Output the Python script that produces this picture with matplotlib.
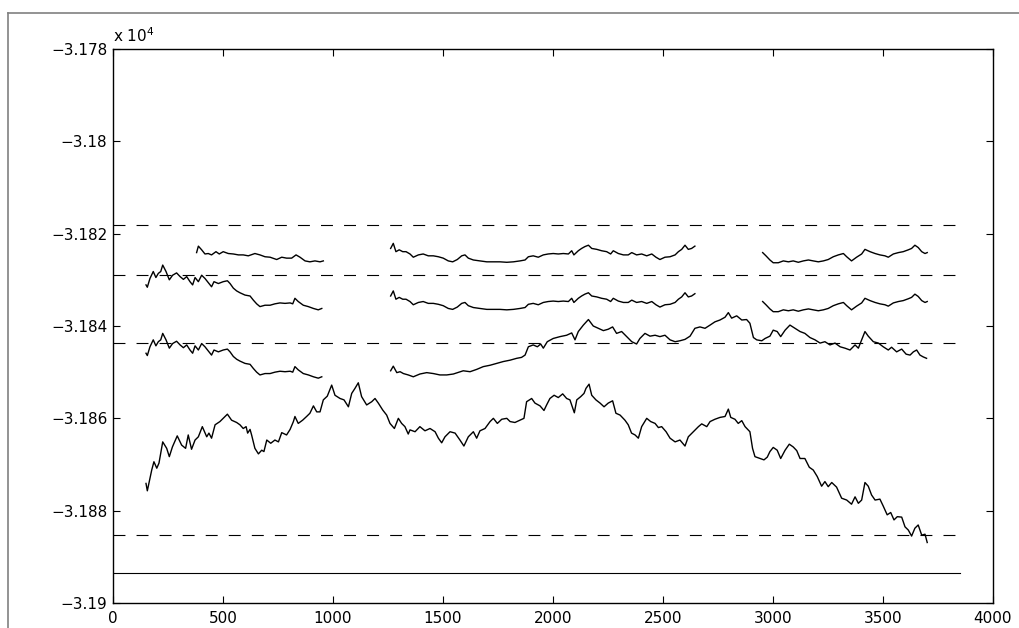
import matplotlib
matplotlib.use('Agg')
import matplotlib.pyplot as plt
from matplotlib.lines import Line2D
from matplotlib.ticker import FixedLocator

plt.rcParams['font.family'] = ['DejaVu Sans']
plt.rcParams['lines.scale_dashes'] = False

# long bottom trace
bottom_x = [150, 156, 176, 186, 199, 209, 226, 244, 256, 270, 292, 312, 330, 342, 357, 373, 388, 406, 426, 436,
            448, 464, 486, 501, 520, 539, 562, 577, 592, 605, 612, 623, 630, 645, 661, 676, 686, 699, 717, 736,
            752, 767, 789, 805, 820, 827, 842, 862, 880, 895, 911, 926, 941, 956, 974, 994, 1009, 1032, 1050, 1070,
            1085, 1100, 1115, 1130, 1153, 1176, 1191, 1206, 1226, 1244, 1259, 1279, 1297, 1312, 1327, 1342,
            1350, 1373, 1395, 1418, 1441, 1464, 1479, 1494, 1509, 1532, 1555, 1577, 1595, 1615, 1638, 1653, 1668,
            1691, 1714, 1729, 1747, 1767, 1790, 1805, 1827, 1850, 1868, 1880, 1903, 1918, 1941, 1959, 1971, 1986,
            2005, 2024, 2044, 2062, 2077, 2097, 2108, 2126, 2141, 2150, 2164, 2176, 2195, 2214, 2232, 2251, 2271,
            2286, 2305, 2327, 2342, 2357, 2373, 2388, 2403, 2426, 2444, 2464, 2479, 2494, 2514, 2532, 2555, 2577,
            2600, 2615, 2638, 2661, 2676, 2699, 2714, 2736, 2759, 2782, 2797, 2808, 2827, 2842, 2858, 2873, 2895,
            2907, 2918, 2941, 2959, 2974, 2986, 3001, 3019, 3035, 3055, 3074, 3092, 3108, 3123, 3145, 3165, 3183,
            3201, 3221, 3236, 3251, 3267, 3289, 3312, 3335, 3357, 3373, 3388, 3403, 3418, 3433, 3448, 3464, 3486,
            3501, 3519, 3535, 3550, 3565, 3585, 3600, 3615, 3630, 3645, 3660, 3676, 3691, 3701]
bottom_y = [-31874.1, -31875.7, -31871.2, -31869.4, -31870.8, -31869.7, -31865.1, -31866.5, -31868.3, -31866.2,
            -31863.8, -31865.8, -31866.5, -31863.6, -31866.7, -31864.7, -31864.0, -31861.8, -31864.0, -31863.2,
            -31864.3, -31861.4, -31860.7, -31860.0, -31859.1, -31860.4, -31860.9, -31861.4, -31862.2, -31861.8,
            -31863.2, -31862.4, -31863.6, -31866.5, -31867.7, -31866.9, -31867.2, -31864.7, -31865.4, -31864.7,
            -31865.1, -31863.1, -31863.6, -31862.4, -31860.7, -31859.6, -31861.1, -31860.4, -31859.6, -31858.9,
            -31857.3, -31858.6, -31858.6, -31856.0, -31855.2, -31852.8, -31855.0, -31855.7, -31856.0, -31857.5,
            -31854.6, -31853.5, -31852.3, -31855.3, -31857.1, -31856.4, -31855.7, -31856.7, -31858.2, -31859.3,
            -31861.1, -31862.2, -31860.0, -31861.1, -31861.8, -31863.4,
            -31862.5, -31862.9, -31861.8, -31862.7, -31862.2, -31862.9, -31864.3, -31865.3, -31864.0, -31862.9,
            -31863.2, -31864.7, -31866.0, -31864.0, -31862.9, -31864.3, -31862.7, -31862.2, -31860.7, -31860.0,
            -31861.1, -31860.2, -31860.0, -31860.7, -31860.9, -31860.4, -31860.0, -31856.4, -31855.7, -31856.7,
            -31857.3, -31858.3, -31857.1, -31855.7, -31855.0, -31855.5, -31854.7, -31855.7, -31856.0, -31858.8,
            -31856.0, -31855.3, -31854.6, -31853.5, -31852.6, -31855.0, -31856.0, -31856.7, -31857.5, -31856.7,
            -31856.2, -31858.9, -31859.3, -31860.4, -31861.4, -31863.2, -31863.6, -31864.3, -31861.8, -31860.0,
            -31860.7, -31861.1, -31862.0, -31861.8, -31862.9, -31864.3, -31865.1, -31864.7, -31866.0, -31864.0,
            -31862.9, -31861.8, -31861.2, -31861.8, -31860.7, -31860.2, -31859.8, -31859.6, -31858.0, -31859.8,
            -31860.2, -31861.1, -31860.5, -31861.8, -31862.9, -31866.5, -31868.3, -31868.7, -31869.0, -31868.4,
            -31867.2, -31866.3, -31866.9, -31868.7, -31866.9, -31865.6, -31866.2, -31867.0, -31868.7, -31868.7,
            -31870.6, -31871.2, -31872.6, -31874.7, -31873.7, -31874.8, -31873.9, -31874.9, -31877.3, -31877.7,
            -31878.6, -31877.0, -31878.4, -31877.7, -31873.9, -31874.7, -31876.6, -31877.7, -31877.5, -31879.0,
            -31880.9, -31880.4, -31882.0, -31881.3, -31881.4, -31883.5, -31884.2, -31885.5, -31883.8, -31883.1,
            -31885.3, -31885.1, -31886.9]

# third trace: left piece and long piece
c3_left_x = [150, 156, 168, 183, 195, 206, 217, 226, 241, 256, 271, 289, 305, 320, 335, 350, 362, 373, 388, 403,
             418, 433, 448, 459, 479, 501, 520, 532, 547, 562, 577, 600, 623, 638, 653, 668, 691, 714, 736, 759,
             782, 805, 817, 827, 842, 865, 888, 911, 933, 949]
c3_left_y = [-31845.9, -31846.4, -31844.5, -31843.0, -31844.3, -31843.4, -31843.0, -31841.6, -31843.0, -31844.8,
             -31843.8, -31843.3, -31844.1, -31844.7, -31844.1, -31845.2, -31845.9, -31844.3, -31845.2, -31843.8,
             -31844.5, -31845.4, -31846.3, -31845.2, -31845.6, -31845.2, -31845.0, -31845.6, -31846.6, -31847.2,
             -31847.6, -31848.1, -31848.3, -31849.2, -31850.0, -31850.6, -31850.3, -31850.3, -31850.0, -31849.8,
             -31849.9, -31849.8, -31850.0, -31848.8, -31849.5, -31850.3, -31850.6, -31851.0, -31851.3, -31851.0]
c3_mid_x = [1262, 1274, 1290, 1305, 1320, 1342, 1365, 1395, 1426, 1456, 1486, 1517, 1547, 1592, 1623, 1653, 1683,
            1714, 1744, 1774, 1805, 1835, 1857, 1873, 1888, 1910, 1929, 1944, 1956, 1974, 2001, 2032, 2062, 2085,
            2100, 2115, 2138, 2161, 2183, 2206, 2229, 2251, 2271, 2289, 2312, 2335, 2358, 2380, 2395, 2418, 2441,
            2464, 2486, 2509, 2532, 2555, 2577, 2600, 2623, 2645, 2668, 2691, 2714, 2736, 2759, 2782, 2797, 2812,
            2835, 2858, 2880, 2895, 2911, 2926, 2949, 2964, 2986, 3001, 3019, 3035, 3055, 3077, 3100, 3123, 3145,
            3168, 3191, 3214, 3236, 3259, 3282, 3305, 3327, 3350, 3373, 3388, 3403, 3418, 3433, 3456, 3479, 3501,
            3524, 3539, 3562, 3585, 3605, 3623, 3638, 3653, 3668, 3683, 3698]
c3_mid_y = [-31849.7, -31848.7, -31850.1, -31849.9, -31850.3, -31850.6, -31851.0, -31850.4, -31850.1, -31850.3,
            -31850.6, -31850.6, -31850.4, -31849.7, -31849.9, -31849.4, -31848.8, -31848.5, -31848.1, -31847.7,
            -31847.4, -31847.0, -31846.8, -31846.3, -31844.5, -31844.1, -31844.5, -31843.9, -31844.8, -31843.4,
            -31842.7, -31842.3, -31842.0, -31841.5, -31843.0, -31841.2, -31839.8, -31838.6, -31840.0, -31840.5,
            -31841.0, -31840.7, -31840.2, -31841.6, -31841.2, -31842.3, -31843.4, -31843.9, -31842.7, -31841.6,
            -31842.2, -31842.0, -31842.3, -31842.0, -31843.0, -31843.4, -31843.2, -31842.9, -31842.2, -31840.5,
            -31840.2, -31840.5, -31839.8, -31839.1, -31838.7, -31838.1, -31837.1, -31838.3, -31837.8, -31838.7,
            -31838.6, -31839.4, -31842.5, -31843.0, -31843.2, -31842.7, -31842.2, -31840.9, -31841.2, -31842.3,
            -31840.9, -31839.8, -31840.5, -31841.2, -31841.6, -31842.5, -31843.0, -31843.7, -31843.4, -31844.1,
            -31843.7, -31844.5, -31844.8, -31845.2, -31844.1, -31844.8, -31843.0, -31841.2, -31842.2, -31843.4,
            -31843.7, -31844.5, -31845.2, -31844.6, -31845.6, -31845.0, -31846.1, -31846.3, -31845.6, -31845.2,
            -31846.3, -31846.7, -31847.0]

# second trace: three pieces
c2_left_x = c3_left_x
c2_left_y = [-31831.1, -31831.6, -31829.7, -31828.2, -31829.5, -31828.6, -31828.2, -31826.8, -31828.2, -31830.0,
             -31829.0, -31828.5, -31829.3, -31829.9, -31829.3, -31830.4, -31831.1, -31829.5, -31830.4, -31829.0,
             -31829.7, -31830.6, -31831.5, -31830.4, -31830.8, -31830.4, -31830.2, -31830.8, -31831.8, -31832.4,
             -31832.8, -31833.3, -31833.5, -31834.4, -31835.2, -31835.8, -31835.5, -31835.5, -31835.2, -31835.0,
             -31835.1, -31835.0, -31835.2, -31834.0, -31834.7, -31835.5, -31835.8, -31836.2, -31836.5, -31836.2]
mid_x = [1262, 1274, 1286, 1301, 1317, 1332, 1350, 1365, 1388, 1410, 1433, 1456, 1479, 1501, 1524, 1544, 1565, 1585,
         1600, 1615, 1638, 1668, 1699, 1729, 1759, 1790, 1820, 1850, 1873, 1888, 1910, 1933, 1956, 1978, 2001, 2024,
         2047, 2070, 2085, 2095, 2115, 2130, 2145, 2161, 2176, 2199, 2221, 2244, 2262, 2274, 2297, 2320, 2342, 2358,
         2380, 2403, 2426, 2449, 2468, 2486, 2509, 2532, 2555, 2570, 2585, 2600, 2615, 2630, 2645]
c2_mid_y = [-31833.5, -31832.4, -31834.2, -31833.8, -31834.2, -31834.2, -31834.7, -31835.4, -31834.9, -31834.7,
            -31835.1, -31835.1, -31835.3, -31835.6, -31836.2, -31836.4, -31835.9, -31835.1, -31834.9, -31835.6,
            -31836.0, -31836.2, -31836.4, -31836.4, -31836.4, -31836.5, -31836.4, -31836.2, -31836.0, -31835.3,
            -31835.1, -31835.4, -31834.9, -31834.7, -31834.6, -31834.7, -31834.6, -31834.7, -31834.0, -31834.9,
            -31834.0, -31833.5, -31833.1, -31832.8, -31833.5, -31833.7, -31834.0, -31834.2, -31834.7, -31834.0,
            -31834.6, -31834.9, -31834.9, -31834.4, -31834.9, -31834.7, -31835.1, -31834.7, -31835.4, -31835.9,
            -31835.4, -31835.3, -31834.9, -31834.2, -31833.7, -31832.8, -31833.7, -31833.5, -31833.0]
right_x = [2953, 2968, 2986, 3001, 3024, 3047, 3070, 3092, 3115, 3138, 3161, 3183, 3206, 3229, 3251, 3274, 3297,
           3320, 3335, 3357, 3380, 3403, 3418, 3441, 3464, 3486, 3509, 3524, 3547, 3570, 3592, 3615, 3630, 3645,
           3660, 3676, 3691, 3701]
c2_right_y = [-31834.7, -31835.4, -31836.3, -31836.9, -31836.9, -31836.5, -31836.7, -31836.5, -31836.8, -31836.5,
              -31836.3, -31836.5, -31836.7, -31836.5, -31836.2, -31835.6, -31835.2, -31834.9, -31835.6, -31836.5,
              -31835.7, -31835.0, -31834.0, -31834.5, -31834.9, -31835.2, -31835.4, -31835.7, -31835.0, -31834.7,
              -31834.5, -31834.1, -31833.8, -31833.1, -31833.6, -31834.5, -31834.9, -31834.7]

# top trace: three pieces
c1_left_x = [380, 388, 403, 418, 433, 448, 468, 483, 501, 524, 547, 570, 592, 615, 645, 668, 691, 714, 744, 767,
             789, 812, 832, 850, 873, 895, 918, 941, 956]
c1_left_y = [-31824.1, -31822.7, -31823.5, -31824.4, -31824.3, -31824.6, -31823.9, -31824.4, -31823.9, -31824.3,
             -31824.4, -31824.6, -31824.6, -31824.8, -31824.3, -31824.6, -31825.0, -31825.1, -31825.6, -31825.1,
             -31825.3, -31825.3, -31824.6, -31825.1, -31825.9, -31826.1, -31825.9, -31826.1, -31825.9]
c1_mid_y = [-31823.2, -31822.1, -31823.9, -31823.5, -31823.9, -31823.9, -31824.4, -31825.1, -31824.6, -31824.4,
            -31824.8, -31824.8, -31825.0, -31825.3, -31825.9, -31826.1, -31825.6, -31824.8, -31824.6, -31825.3,
            -31825.7, -31825.9, -31826.1, -31826.1, -31826.1, -31826.2, -31826.1, -31825.9, -31825.7, -31825.0,
            -31824.8, -31825.1, -31824.6, -31824.4, -31824.3, -31824.4, -31824.3, -31824.4, -31823.7, -31824.6,
            -31823.7, -31823.2, -31822.8, -31822.5, -31823.2, -31823.4, -31823.7, -31823.9, -31824.4, -31823.7,
            -31824.3, -31824.6, -31824.6, -31824.1, -31824.6, -31824.4, -31824.8, -31824.4, -31825.1, -31825.6,
            -31825.1, -31825.0, -31824.6, -31823.9, -31823.4, -31822.5, -31823.4, -31823.2, -31822.7]
c1_right_y = [-31824.1, -31824.8, -31825.7, -31826.3, -31826.3, -31825.9, -31826.1, -31825.9, -31826.2, -31825.9,
              -31825.7, -31825.9, -31826.1, -31825.9, -31825.6, -31825.0, -31824.6, -31824.3, -31825.0, -31825.9,
              -31825.1, -31824.4, -31823.4, -31823.9, -31824.3, -31824.6, -31824.8, -31825.1, -31824.4, -31824.1,
              -31823.9, -31823.5, -31823.2, -31822.5, -31823.0, -31823.9, -31824.3, -31824.1]

# reference levels
dashed_levels = [-31818.1, -31829.0, -31843.6, -31885.3]
solid_level = -31893.6
level_x = [0, 3850]

y_ticks = [-31780, -31800, -31820, -31840, -31860, -31880, -31900]
y_ticklabels = ['\u22123.178', '\u22123.18', '\u22123.182', '\u22123.184', '\u22123.186', '\u22123.188', '\u22123.19']
x_ticks = [0, 500, 1000, 1500, 2000, 2500, 3000, 3500, 4000]

fig = plt.figure(figsize=(10.2, 6.28), dpi=100)
ax = fig.add_axes([113 / 1020, 25 / 628, 880 / 1020, 554 / 628])

for xs, ys in [(bottom_x, bottom_y), (c3_left_x, c3_left_y), (c3_mid_x, c3_mid_y),
               (c2_left_x, c2_left_y), (mid_x, c2_mid_y), (right_x, c2_right_y),
               (c1_left_x, c1_left_y), (mid_x, c1_mid_y), (right_x, c1_right_y)]:
    ax.plot(xs, ys, color='black', lw=1.0)

for lev in dashed_levels:
    ax.plot(level_x, [lev, lev], color='black', lw=0.8, dashes=(8.6, 8))
ax.plot(level_x, [solid_level, solid_level], color='black', lw=0.8)

ax.set_xlim(0, 4000)
ax.set_ylim(-31900, -31780)
ax.xaxis.set_major_locator(FixedLocator(x_ticks))
ax.set_xticklabels([str(v) for v in x_ticks])
ax.yaxis.set_major_locator(FixedLocator(y_ticks))
ax.set_yticklabels(y_ticklabels)
ax.tick_params(direction='in', length=5, width=0.8, labelsize=11, top=True, right=True, pad=4)
ax.tick_params(axis='x', pad=6)
for s in ax.spines.values():
    s.set_linewidth(1.0)

ax.text(0, 1.008, 'x 10$^{4}$', transform=ax.transAxes, fontsize=11, ha='left', va='bottom')

# grey frame of the original window
fig.add_artist(Line2D([8.5 / 1020, 8.5 / 1020], [0, 1 - 12.5 / 628], transform=fig.transFigure,
                      color='#808080', lw=1.2))
fig.add_artist(Line2D([8.5 / 1020, 1], [1 - 12.5 / 628, 1 - 12.5 / 628], transform=fig.transFigure,
                      color='#808080', lw=1.2))

fig.savefig('out.png', dpi=100)
